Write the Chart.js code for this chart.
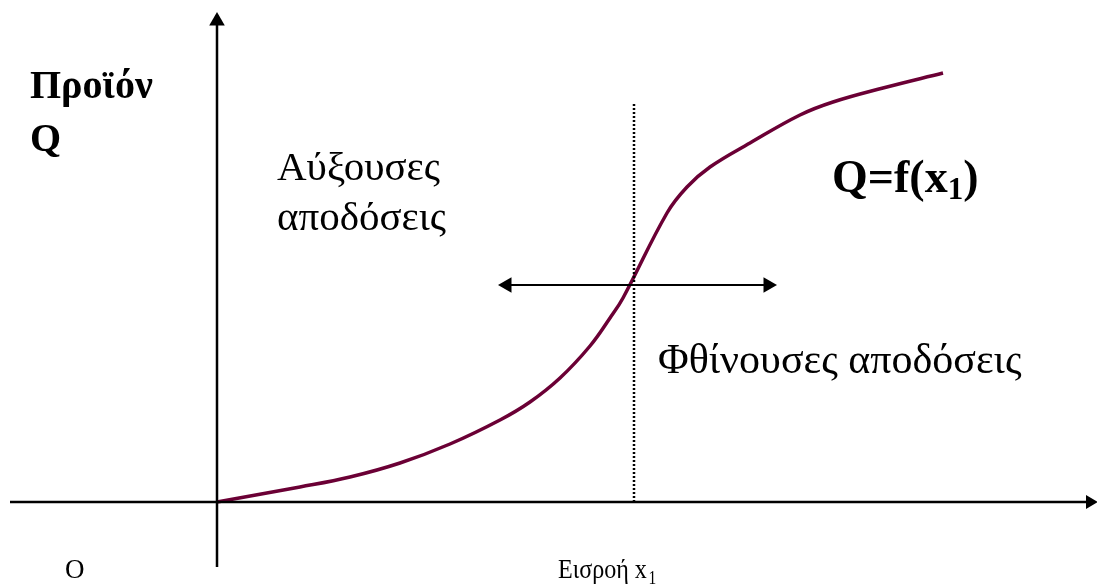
<!DOCTYPE html>
<html>
<head>
<meta charset="utf-8">
<script src="https://cdn.jsdelivr.net/npm/chart.js@4/dist/chart.umd.min.js"></script>
<style>
html,body{margin:0;padding:0;background:#fff;}
#wrap{width:1097px;height:587px;position:relative;}
</style>
</head>
<body>
<div id="wrap"><canvas id="c"></canvas></div>
<script>
// Input x1 (horizontal) and output Q (vertical), in chart units
const curveX = [0, 8.3, 13.3, 18.3, 23.3, 28.3, 31.3, 34.3, 37.3, 39.3, 40.6, 45.0, 47.0, 49.3, 53.3, 58.3, 61.6, 66.6, 72.6];
const curveQ = [0, 1.5, 2.5, 3.9, 5.8, 8.2, 10.0, 12.4, 15.6, 18.4, 20.4, 28.9, 31.5, 33.5, 35.9, 38.7, 40.0, 41.4, 42.9];

// Axes and guide marks (chart units)
const xAxisX = [-20.7, 87.3];
const yAxisQ = [-6.5, 48.1];
const inflectionX = 41.7;
const inflectionTopQ = 40.0;
const arrowQ = 21.7;
const arrowX = [29.0, 55.1];

// Text labels
const labels = [
  {text: 'Προϊόν', x: -18.7, y: 40.4, font: 'bold 40px "Liberation Serif"'},
  {text: 'Q', x: -18.7, y: 35.1, font: 'bold 40px "Liberation Serif"'},
  {text: 'Αύξουσες', x: 6.0, y: 32.2, font: '41px "Liberation Serif"'},
  {text: 'αποδόσεις', x: 6.0, y: 27.2, font: '41px "Liberation Serif"'},
  {text: 'Φθίνουσες αποδόσεις', x: 44.1, y: 12.9, font: '42px "Liberation Serif"'},
  {text: 'O', x: -15.2, y: -7.6, font: '27px "Liberation Serif"'}
];

const curveData = curveX.map((x, i) => ({x, y: curveQ[i]}));

const textPlugin = {
  id: 'texts',
  afterDatasetsDraw(chart) {
    const ctx = chart.ctx, xs = chart.scales.x, ys = chart.scales.y;
    ctx.save();
    ctx.fillStyle = '#000';
    ctx.textBaseline = 'alphabetic';
    ctx.textAlign = 'left';
    labels.forEach(l => {
      ctx.font = l.font;
      ctx.fillText(l.text, xs.getPixelForValue(l.x), ys.getPixelForValue(l.y));
    });
    // Q=f(x1)
    let px = xs.getPixelForValue(61.5), py = ys.getPixelForValue(31.0);
    ctx.font = 'bold 46px "Liberation Serif"';
    ctx.fillText('Q=f(x', px, py);
    px += ctx.measureText('Q=f(x').width;
    ctx.font = 'bold 31px "Liberation Serif"';
    ctx.fillText('1', px, py + 7);
    px += ctx.measureText('1').width;
    ctx.font = 'bold 46px "Liberation Serif"';
    ctx.fillText(')', px, py);
    // Εισροή x1 (condensed)
    px = xs.getPixelForValue(34.1); py = ys.getPixelForValue(-7.6);
    ctx.save();
    ctx.translate(px, py);
    ctx.scale(0.86, 1);
    ctx.font = '28px "Liberation Serif"';
    ctx.fillText('Εισροή x', 0, 0);
    const w = ctx.measureText('Εισροή x').width;
    ctx.font = '18px "Liberation Serif"';
    ctx.fillText('1', w + 2, 6);
    ctx.restore();
    ctx.restore();
  }
};

new Chart(document.getElementById('c'), {
  type: 'scatter',
  data: {
    datasets: [
      {
        label: 'x axis',
        data: xAxisX.map(x => ({x, y: 0})),
        showLine: true, borderColor: '#000', backgroundColor: '#000', borderWidth: 2.5,
        pointStyle: 'triangle', pointRadius: [0, 8], pointRotation: 90, pointBorderWidth: 0
      },
      {
        label: 'y axis',
        data: yAxisQ.map(y => ({x: 0, y})),
        showLine: true, borderColor: '#000', backgroundColor: '#000', borderWidth: 2.5,
        pointStyle: 'triangle', pointRadius: [0, 9], pointRotation: 0, pointBorderWidth: 0
      },
      {
        label: 'inflection',
        data: [{x: inflectionX, y: 0}, {x: inflectionX, y: inflectionTopQ}],
        showLine: true, borderColor: '#000', borderWidth: 2.5, borderDash: [2, 2],
        pointRadius: 0
      },
      {
        label: 'arrow',
        data: arrowX.map(x => ({x, y: arrowQ})),
        showLine: true, borderColor: '#000', backgroundColor: '#000', borderWidth: 2,
        pointStyle: 'triangle', pointRadius: 9, pointRotation: [270, 90], pointBorderWidth: 0
      },
      {
        label: 'Q=f(x1)',
        data: curveData,
        showLine: true, borderColor: '#6B0035', borderWidth: 3.5,
        tension: 0.4, pointRadius: 0
      }
    ]
  },
  options: {
    responsive: true, maintainAspectRatio: false, animation: false,
    layout: {padding: 0, autoPadding: false},
    plugins: {legend: {display: false}, tooltip: {enabled: false}},
    scales: {
      x: {type: 'linear', min: -21.7, max: 88.0, display: false},
      y: {type: 'linear', min: -8.5, max: 50.2, display: false}
    }
  },
  plugins: [textPlugin]
});
</script>
</body>
</html>
